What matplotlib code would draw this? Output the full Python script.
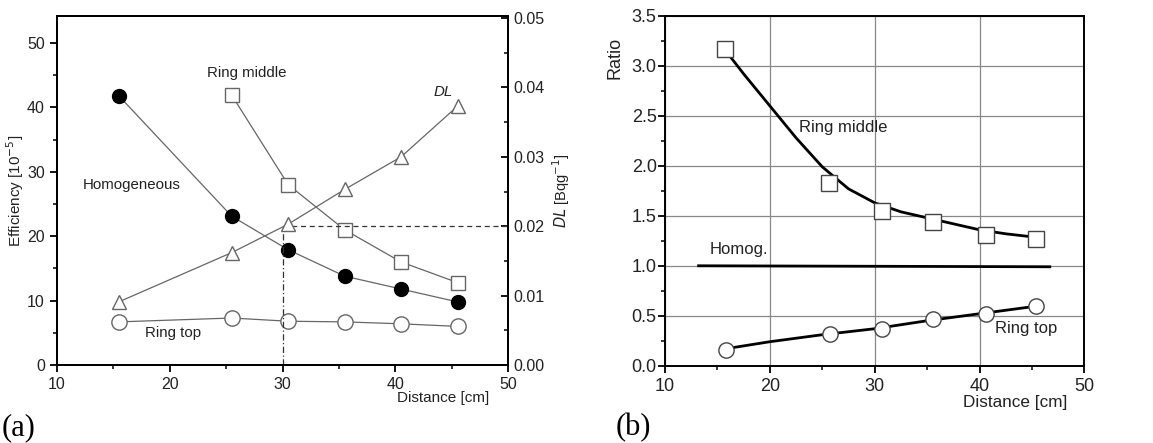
import matplotlib.pyplot as plt
import matplotlib.ticker as ticker

# ---- panel (a): efficiency vs distance ----
dist_a = [15.5, 25.5, 30.5, 35.5, 40.5, 45.5]
homog_eff = [41.8, 23.1, 17.9, 13.8, 11.8, 9.8]
mid_dist = [25.5, 30.5, 35.5, 40.5, 45.5]
mid_eff = [41.9, 28.0, 21.0, 16.0, 12.8]
top_eff = [6.7, 7.3, 6.8, 6.7, 6.4, 6.0]
dl_vals = [0.0091, 0.0162, 0.0203, 0.0253, 0.0300, 0.0373]
dl_ref_x = 30
dl_ref_y = 0.02

# ---- panel (b): ratio vs distance ----
mid_pts_x = [15.7, 25.6, 30.7, 35.6, 40.6, 45.4]
mid_pts_y = [3.17, 1.83, 1.55, 1.44, 1.31, 1.27]
mid_curve_x = [15.8, 17.5, 20, 22.5, 25, 27.5, 30, 32.5, 35, 37.5, 40, 42.5, 45, 45.5]
mid_curve_y = [3.15, 2.92, 2.60, 2.28, 1.99, 1.77, 1.63, 1.54, 1.48, 1.42, 1.36, 1.32, 1.29, 1.28]
top_pts_x = [15.8, 25.7, 30.7, 35.6, 40.6, 45.4]
top_pts_y = [0.16, 0.32, 0.37, 0.47, 0.52, 0.60]
top_curve_x = [15.8, 20, 25, 30, 35, 40, 45, 45.5]
top_curve_y = [0.17, 0.24, 0.31, 0.37, 0.45, 0.52, 0.59, 0.60]
homog_x = [13.2, 46.7]
homog_y = [1.0, 0.99]

LINE_GRAY = "#666666"
TXT = "#222222"

plt.rcParams.update({
    "font.family": ["Liberation Sans", "DejaVu Sans"],
    "axes.linewidth": 1.4,
    "xtick.direction": "out",
    "ytick.direction": "out",
    "xtick.major.width": 1.3,
    "ytick.major.width": 1.3,
    "xtick.minor.width": 1.1,
    "ytick.minor.width": 1.1,
    "xtick.major.size": 5,
    "ytick.major.size": 5,
    "xtick.minor.size": 3,
    "ytick.minor.size": 3,
})

fig = plt.figure(figsize=(11.53, 4.43), dpi=100)

# ---------------- (a) ----------------
ax = fig.add_axes([0.0492, 0.176, 0.3917, 0.788])
ax2 = ax.twinx()

ax.plot(dist_a, homog_eff, color=LINE_GRAY, lw=0.9, marker="o", ms=10,
        mfc="black", mec="black", zorder=3)
ax.plot(mid_dist, mid_eff, color=LINE_GRAY, lw=0.9, marker="s", ms=10,
        mfc="white", mec=LINE_GRAY, mew=1.0, zorder=3)
ax.plot(dist_a, top_eff, color=LINE_GRAY, lw=0.9, marker="o", ms=11,
        mfc="white", mec=LINE_GRAY, mew=1.0, zorder=3)
ax2.plot(dist_a, dl_vals, color=LINE_GRAY, lw=0.9, marker="^", ms=10,
         mfc="white", mec=LINE_GRAY, mew=1.0, zorder=3)
ax2.plot([dl_ref_x, 50], [dl_ref_y, dl_ref_y], color="#333333", lw=0.9, ls=(0, (4, 3)))
ax2.plot([dl_ref_x, dl_ref_x], [0, dl_ref_y], color="#333333", lw=0.9, ls=(0, (5, 2, 1, 2)))

ax.set_xlim(10, 50)
ax.set_ylim(0, 54.2)
ax2.set_ylim(0, 0.0503)
ax.xaxis.set_major_locator(ticker.MultipleLocator(10))
ax.xaxis.set_minor_locator(ticker.MultipleLocator(5))
ax.yaxis.set_major_locator(ticker.MultipleLocator(10))
ax.yaxis.set_minor_locator(ticker.MultipleLocator(5))
ax2.yaxis.set_major_locator(ticker.MultipleLocator(0.01))
ax2.yaxis.set_minor_locator(ticker.MultipleLocator(0.005))
ax2.yaxis.set_major_formatter(ticker.FormatStrFormatter("%.2f"))
ax2.tick_params(axis="y", which="both", direction="in")
ax.tick_params(labelsize=11.5, labelcolor=TXT)
ax2.tick_params(labelsize=11.5, labelcolor=TXT)

ax.set_ylabel("Efficiency [10$^{-5}$]", fontsize=11, color=TXT, labelpad=1)
ax2.set_ylabel("$DL$ [Bqg$^{-1}$]", fontsize=10.5, color=TXT, labelpad=4)
ax.set_xlabel("Distance [cm]", fontsize=11, color=TXT, labelpad=1)
ax.xaxis.set_label_coords(0.855, -0.075)

ax.text(26.8, 45.3, "Ring middle", fontsize=10.8, color=TXT, ha="center", va="center")
ax.text(16.6, 28.0, "Homogeneous", fontsize=10.8, color=TXT, ha="center", va="center")
ax.text(20.3, 5.0, "Ring top", fontsize=10.8, color=TXT, ha="center", va="center")
ax2.text(44.2, 0.0394, "DL", fontsize=10.8, color=TXT, ha="center", va="center", style="italic")

fig.text(0.001, 0.035, "(a)", fontsize=22, family="Liberation Serif", ha="left", va="center")

# ---------------- (b) ----------------
bx = fig.add_axes([0.5768, 0.1745, 0.3637, 0.7894])
bx.grid(True, color="#888888", lw=0.9)
bx.set_axisbelow(True)

bx.plot(mid_curve_x, mid_curve_y, color="black", lw=2.0, zorder=3)
bx.plot(mid_pts_x, mid_pts_y, ls="none", marker="s", ms=11,
        mfc="white", mec="#444444", mew=1.0, zorder=4)
bx.plot(top_curve_x, top_curve_y, color="black", lw=2.0, zorder=3)
bx.plot(top_pts_x, top_pts_y, ls="none", marker="o", ms=11,
        mfc="white", mec="#444444", mew=1.0, zorder=4)
bx.plot(homog_x, homog_y, color="black", lw=2.0, zorder=3)

bx.set_xlim(10, 50)
bx.set_ylim(0, 3.5)
bx.xaxis.set_major_locator(ticker.MultipleLocator(10))
bx.xaxis.set_minor_locator(ticker.MultipleLocator(5))
bx.yaxis.set_major_locator(ticker.MultipleLocator(0.5))
bx.yaxis.set_minor_locator(ticker.MultipleLocator(0.25))
bx.yaxis.set_major_formatter(ticker.FormatStrFormatter("%.1f"))
bx.tick_params(labelsize=13, labelcolor=TXT)
bx.tick_params(axis="y", pad=1)

bx.set_ylabel("Ratio", fontsize=13, color=TXT, labelpad=2)
bx.yaxis.set_label_coords(-0.1, 0.88)
bx.set_xlabel("Distance [cm]", fontsize=12.3, color=TXT)
bx.xaxis.set_label_coords(0.835, -0.085)

bx.text(27.0, 2.38, "Ring middle", fontsize=12, color=TXT, ha="center", va="center")
bx.text(17.0, 1.165, "Homog.", fontsize=12, color=TXT, ha="center", va="center")
bx.text(44.45, 0.37, "Ring top", fontsize=12, color=TXT, ha="center", va="center")

fig.text(0.534, 0.035, "(b)", fontsize=22, family="Liberation Serif", ha="left", va="center")

fig.savefig("out.png", dpi=100)
